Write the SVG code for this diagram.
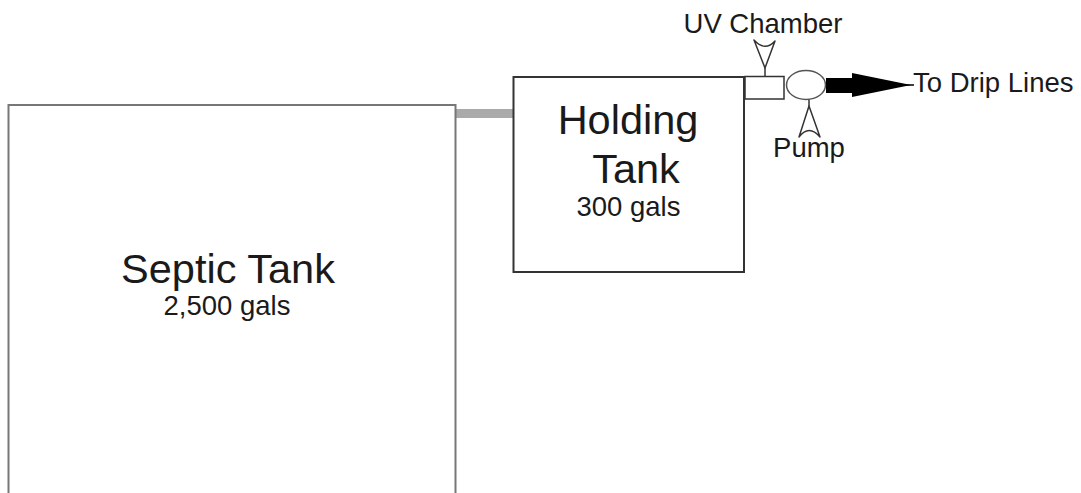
<svg xmlns="http://www.w3.org/2000/svg" width="1081" height="493" viewBox="0 0 1081 493">
<style>
text{font-family:"Liberation Sans",Arial,sans-serif;fill:#1a1a1a;text-anchor:middle}
.big{font-size:41.5px}
.small{font-size:27.5px}
.lbl{font-size:27.5px}
.tank{fill:#fff;stroke:#333;stroke-width:2}
.pointer{fill:#fff;stroke:#333;stroke-width:1.5;stroke-linejoin:round}
</style>
<rect width="1081" height="493" fill="#fff"/>
<g id="connectors">
<rect x="455" y="109" width="58" height="9" fill="#aaa"/>
<rect x="826" y="78" width="27" height="15" fill="#000"/>
<polygon points="852,73 911,85 852,97" fill="#000"/>
<line x1="905" y1="85" x2="914" y2="85" stroke="#000" stroke-width="1.5"/>
</g>
<g id="septic-tank">
<rect x="8.5" y="105" width="447" height="400" fill="#fff" stroke="#777" stroke-width="2"/>
<text class="big" x="228" y="283">Septic Tank</text>
<text class="small" x="227" y="315">2,500 gals</text>
</g>
<g id="holding-tank">
<rect class="tank" x="513.5" y="77" width="230.5" height="195"/>
<text class="big" x="628" y="134">Holding</text>
<text class="big" x="636" y="183">Tank</text>
<text class="small" x="628.5" y="216">300 gals</text>
</g>
<g id="uv-chamber">
<rect x="745" y="76.5" width="39" height="22.5" fill="#fff" stroke="#333" stroke-width="1.5"/>
<path class="pointer" d="M754,40 Q765,52 775,41 L765,68 Z"/>
<line x1="765" y1="68" x2="765" y2="76" stroke="#333" stroke-width="1.5"/>
<text class="lbl" x="763" y="33">UV Chamber</text>
</g>
<g id="pump">
<ellipse cx="806" cy="85" rx="19.5" ry="14.5" fill="#fff" stroke="#555" stroke-width="1.5"/>
<path class="pointer" d="M809,106 L799,137 Q809,124 820,137 Z"/>
<line x1="809" y1="99.5" x2="809" y2="106" stroke="#333" stroke-width="1.5"/>
<text class="lbl" x="809" y="157">Pump</text>
</g>
<g id="drip-lines">
<text class="lbl" x="913" y="92" style="text-anchor:start">To Drip Lines</text>
</g>
</svg>
